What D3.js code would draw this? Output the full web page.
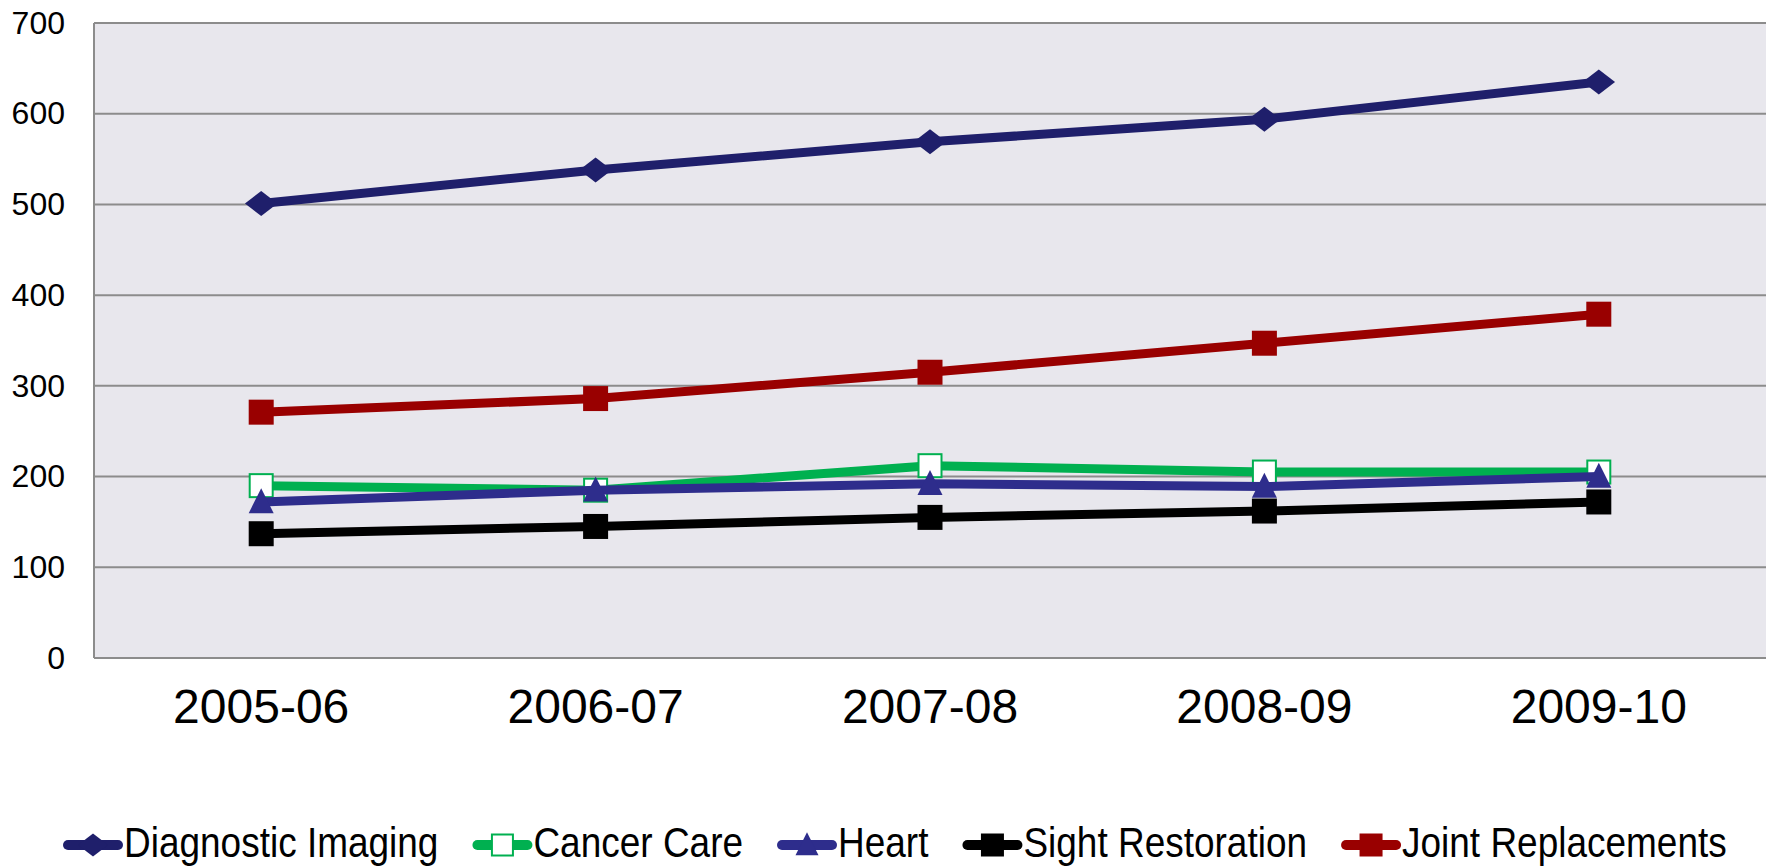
<!DOCTYPE html>
<html><head><meta charset="utf-8">
<script src="https://cdn.jsdelivr.net/npm/d3@7"></script>
<style>body{margin:0;background:#fff;}svg{display:block;font-family:"Liberation Sans",Arial,sans-serif;}</style>
</head><body>
<svg id="c" width="1769" height="867"></svg>
<script>
const categories = ["2005-06","2006-07","2007-08","2008-09","2009-10"];
const diagnosticImaging = [501, 538, 569, 594, 635];
const cancerCare = [190, 185, 212, 205, 205];
const heart = [172, 185, 192, 189, 200];
const sightRestoration = [137, 145, 155, 162, 172];
const jointReplacements = [271, 286, 315, 347, 379];
const yTicks = [0,100,200,300,400,500,600,700];

const series = [
  {name:"Diagnostic Imaging", values:diagnosticImaging, color:"#1f1f6b", marker:"diamond"},
  {name:"Cancer Care", values:cancerCare, color:"#00b050", marker:"squareOpen"},
  {name:"Heart", values:heart, color:"#2e2d8c", marker:"triangle"},
  {name:"Sight Restoration", values:sightRestoration, color:"#000000", marker:"square"},
  {name:"Joint Replacements", values:jointReplacements, color:"#990000", marker:"square"}
];

const svg = d3.select("#c");
const m = {left:94, right:1766, top:23, bottom:658};
const x = d3.scaleBand().domain(categories).range([m.left, m.right]);
const y = d3.scaleLinear().domain([0,700]).range([m.bottom, m.top]);

svg.append("rect").attr("x",m.left).attr("y",m.top).attr("width",m.right-m.left).attr("height",m.bottom-m.top).attr("fill","#e8e7ed");

svg.append("g").selectAll("line").data(yTicks).join("line")
  .attr("x1",m.left).attr("x2",m.right).attr("y1",d=>y(d)).attr("y2",d=>y(d))
  .attr("stroke","#8c8c8c").attr("stroke-width",2);
svg.append("line").attr("x1",m.left).attr("x2",m.left).attr("y1",m.top).attr("y2",m.bottom).attr("stroke","#8c8c8c").attr("stroke-width",2);

const yAxis = svg.append("g").attr("transform",`translate(${m.left},0)`)
  .call(d3.axisLeft(y).tickValues(yTicks).tickSize(0).tickPadding(29));
yAxis.select(".domain").remove();
yAxis.selectAll("text").attr("font-size",32).attr("fill","#000").attr("font-family","Liberation Sans, Arial, sans-serif");

const xAxis = svg.append("g").attr("transform",`translate(0,${m.bottom})`)
  .call(d3.axisBottom(x).tickSize(0).tickPadding(0));
xAxis.select(".domain").remove();
xAxis.selectAll("text").attr("font-size",48).attr("fill","#000").attr("font-family","Liberation Sans, Arial, sans-serif")
  .attr("dy",0).attr("y",65);

const cx = d => x(d) + x.bandwidth()/2;

function drawMarker(g, type, color, s){
  if(type==="diamond"){
    g.append("path").attr("d",`M0,${-s/2}L${s*0.65},0L0,${s/2}L${-s*0.65},0Z`).attr("fill",color);
  } else if(type==="triangle"){
    g.append("path").attr("d",`M0,${-s*0.55}L${s/2},${s*0.45}L${-s/2},${s*0.45}Z`).attr("fill",color);
  } else if(type==="squareOpen"){
    g.append("rect").attr("x",-s/2+1).attr("y",-s/2+1).attr("width",s-2).attr("height",s-2).attr("fill","#fff").attr("stroke",color).attr("stroke-width",2);
  } else {
    g.append("rect").attr("x",-s/2).attr("y",-s/2).attr("width",s).attr("height",s).attr("fill",color);
  }
}

const line = d3.line().x((d,i)=>cx(categories[i])).y(d=>y(d));
series.forEach(s=>{
  const g = svg.append("g");
  g.append("path").attr("d",line(s.values)).attr("fill","none").attr("stroke",s.color).attr("stroke-width",9).attr("stroke-linejoin","round");
  s.values.forEach((v,i)=>{
    const mg = g.append("g").attr("transform",`translate(${cx(categories[i])},${y(v)})`);
    drawMarker(mg, s.marker, s.color, 25);
  });
});

// legend
const lg = svg.append("g").attr("transform","translate(0,845)");
let lx = 64;
const sx = 0.86;
series.forEach(s=>{
  const it = lg.append("g").attr("transform",`translate(${lx},0)`);
  it.append("line").attr("x1",4).attr("x2",54).attr("y1",0).attr("y2",0).attr("stroke",s.color).attr("stroke-width",10).attr("stroke-linecap","round");
  const mg = it.append("g").attr("transform","translate(29,0)");
  drawMarker(mg, s.marker, s.color, 23);
  const t = it.append("text").attr("x",60).attr("y",12).attr("font-size",43).attr("fill","#000").text(s.name)
    .attr("transform",`translate(60,0) scale(${sx},1) translate(-60,0)`);
  const w = t.node().getComputedTextLength()*sx;
  lx += 60 + w + 35;
});
</script>
</body></html>
